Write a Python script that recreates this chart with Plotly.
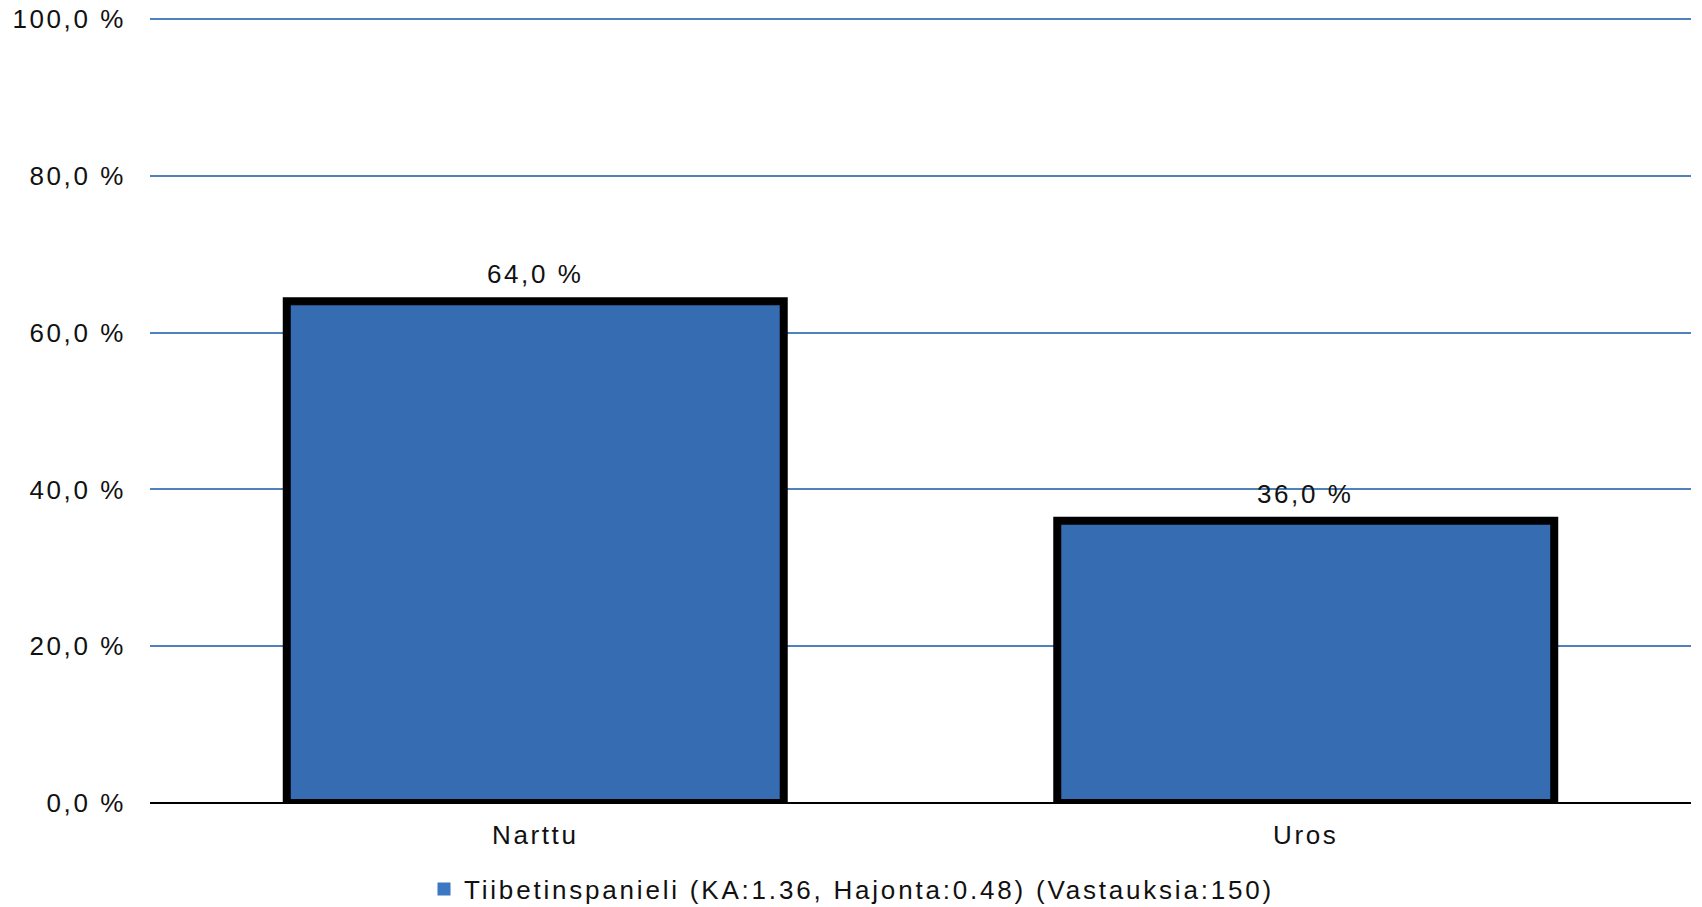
import plotly.graph_objects as go

categories = ["Narttu", "Uros"]
values = [64.0, 36.0]
value_labels = ["64,0 %", "36,0 %"]
tick_vals = [0, 20, 40, 60, 80, 100]
tick_text = ["0,0 %", "20,0 %", "40,0 %", "60,0 %", "80,0 %", "100,0 %"]
series_name = "Tiibetinspanieli (KA:1.36, Hajonta:0.48) (Vastauksia:150)"

FONT = "Liberation Sans, Arial, sans-serif"
FS = 26


def spaced(s, ls=2.6):
    return '<span style="letter-spacing:%spx">' % ls + s + "</span>"


fig = go.Figure()
fig.add_trace(go.Bar(
    x=categories, y=values, name=series_name, showlegend=False,
    width=0.645,
    marker=dict(color="#356CB2", line=dict(color="#000000", width=8)),
))
# value labels above the bars
for c, v, t in zip(categories, values, value_labels):
    fig.add_annotation(x=c, y=v, text=spaced(t), showarrow=False,
                       xanchor="center", yanchor="middle", yshift=27,
                       font=dict(family=FONT, size=FS, color="#111111"))
# legend entry (plain square, as in the reference)
fig.add_trace(go.Scatter(
    x=[None], y=[None], mode="markers", name=spaced(series_name, 2.8),
    marker=dict(symbol="square", size=13, color="#3A78C4", line=dict(width=0)),
    showlegend=True,
))

fig.update_layout(
    width=1702, height=907,
    margin=dict(l=150, r=11, t=18, b=104),
    paper_bgcolor="white", plot_bgcolor="white",
    font=dict(family=FONT, size=FS, color="#111111"),
    showlegend=True,
    legend=dict(orientation="h", xref="container", yref="container",
                x=424 / 1702, xanchor="left",
                y=1 - 889 / 907, yanchor="middle",
                font=dict(family=FONT, size=FS, color="#111111"),
                itemwidth=30, bgcolor="rgba(0,0,0,0)"),
)
fig.update_xaxes(showgrid=False, showline=False, ticks="", zeroline=False,
                 automargin=False, ticklabelstandoff=14,
                 tickvals=categories, ticktext=[spaced(c) for c in categories],
                 tickfont=dict(family=FONT, size=FS, color="#111111"))
fig.update_yaxes(range=[0, 100.15], tickvals=tick_vals,
                 ticktext=[spaced(t) for t in tick_text],
                 showgrid=True, gridcolor="#4F81BD", gridwidth=2,
                 zeroline=True, zerolinecolor="#000000", zerolinewidth=2,
                 showline=False, ticks="", ticklabelstandoff=23, automargin=False,
                 tickfont=dict(family=FONT, size=FS, color="#111111"))

fig.write_html("out.html", config={"displayModeBar": False},
               post_script="document.body.style.margin='0';")
